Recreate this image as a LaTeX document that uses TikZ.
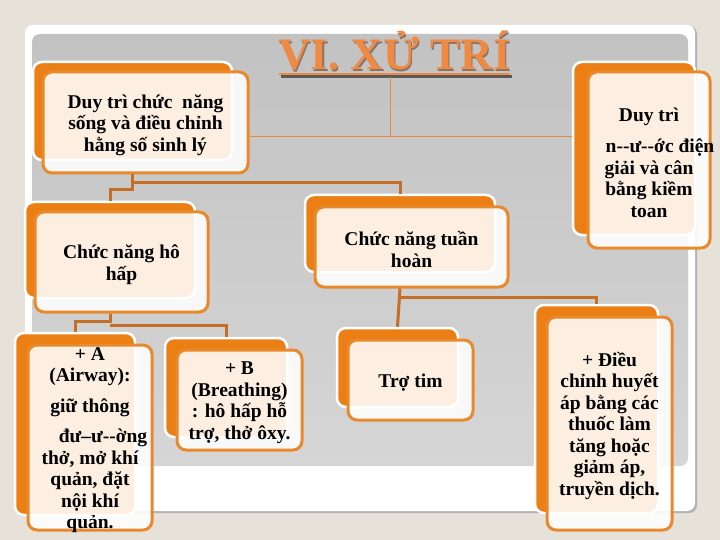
\documentclass[tikz,border=0pt]{standalone}
\usepackage{fontspec}
\setmainfont{Liberation Serif}
\definecolor{bgbeige}{HTML}{E6E1D9}
\definecolor{panelTop}{HTML}{C2C2C2}
\definecolor{panelBot}{HTML}{D6D6D6}
\definecolor{orangeB}{HTML}{EB7F14}
\definecolor{orangeL}{HTML}{E8892C}
\definecolor{connC}{HTML}{C46E28}
\definecolor{thinC}{HTML}{E8893A}
\definecolor{titleC}{HTML}{F08A42}
\definecolor{titleSh}{HTML}{8A7468}
\begin{document}
\begin{tikzpicture}[x=1pt,y=-1pt,
  backbox/.style={draw=white, line width=2.5pt, fill=orangeB, rounded corners=9pt, inner sep=0pt},
  frontbox/.style={draw=orangeL, line width=3pt, fill=white, fill opacity=0.87, rounded corners=9pt, inner sep=0pt},
  txt/.style={font=\bfseries\fontsize{19.5}{21.5}\selectfont, align=center, inner sep=0pt, text=black, yshift=-2.5pt},
  conn/.style={draw=connC, line width=3pt},
  thinl/.style={draw=thinC, line width=1pt}]
\useasboundingbox (0,0) rectangle (720,540);
\fill[bgbeige] (0,0) rectangle (720,540);
% panels
\fill[black!30, rounded corners=8pt] (26,26) rectangle (697,513);
\fill[white, rounded corners=8pt] (25,25) rectangle (695,511);
\shade[top color=panelTop, bottom color=panelBot, rounded corners=8pt] (32,34) rectangle (688,466);

% title
\node[font=\bfseries\fontsize{45}{50}\selectfont, text=titleSh, anchor=base] (titleshadow) at (395.6,71.1) {VI. XỬ TRÍ};
\node[font=\bfseries\fontsize{45}{50}\selectfont, text=titleC, anchor=base] (title) at (394.5,70) {VI. XỬ TRÍ};
\draw[line width=2.2pt, black!65] (281,76.5) -- (512,76.5);
\draw[line width=2pt, titleC] (279,74) -- (510,74);
\coordinate (ul) at (390,77.5);

% boxes: back
\node[backbox, minimum width=199pt, minimum height=98pt] (b1back) at (132.5,111) {};
\node[backbox, minimum width=122pt, minimum height=173pt] (b2back) at (634,148.5) {};
\node[backbox, minimum width=170pt, minimum height=96pt] (b3back) at (110,250) {};
\node[backbox, minimum width=190pt, minimum height=77pt] (b4back) at (400,233.5) {};
\node[backbox, minimum width=120pt, minimum height=182pt] (b5back) at (75,424) {};
\node[backbox, minimum width=122pt, minimum height=99pt] (b6back) at (226,387.5) {};
\node[backbox, minimum width=121pt, minimum height=79pt] (b7back) at (397.5,367.5) {};
\node[backbox, minimum width=123pt, minimum height=208pt] (b8back) at (596.5,409) {};

% boxes: front
\node[frontbox, minimum width=205pt, minimum height=101pt] (b1) at (145.5,122.5) {};
\node[frontbox, minimum width=122pt, minimum height=176pt] (b2) at (649,160) {};
\node[frontbox, minimum width=173pt, minimum height=100pt] (b3) at (121.5,262) {};
\node[frontbox, minimum width=193pt, minimum height=80pt] (b4) at (411.5,247) {};
\node[frontbox, minimum width=124pt, minimum height=185pt] (b5) at (90,437.5) {};
\node[frontbox, minimum width=125pt, minimum height=100pt] (b6) at (239.5,400) {};
\node[frontbox, minimum width=125pt, minimum height=80pt] (b7) at (410.5,380) {};
\node[frontbox, minimum width=125pt, minimum height=213pt] (b8) at (609.5,423.5) {};

% texts
\node[txt] (t1) at (b1.center) {Duy trì chức~ năng\\sống và điều chỉnh\\hằng số sinh lý};
\node[txt] (t2) at (b2.center) {Duy trì\\[10pt]\hspace*{22pt}n-{}-ư-{}-ớc điện\\giải và cân\\bằng kiềm\\toan};
\node[txt] (t3) at (b3.center) {Chức năng hô\\hấp};
\node[txt] (t4) at (b4.center) {Chức năng tuần\\hoàn};
\node[txt] (t5) at (b5.center) {+ A\\(Airway):\\[9pt]giữ thông\\[9pt]\hspace*{26pt}đư–ư-{}-ờng\\thở, mở khí\\quản, đặt\\nội khí\\quản.};
\node[txt] (t6) at (b6.center) {+ B\\(Breathing)\\: hô hấp hỗ\\trợ, thở ôxy.};
\node[txt] (t7) at (b7.center) {Trợ tim};
\node[txt] (t8) at (b8.center) {+ Điều\\chỉnh huyết\\áp bằng các\\thuốc làm\\tăng hoặc\\giảm áp,\\truyền dịch.};

% thin connectors
\draw[thinl] (b1.east |- 0,137) -- (b2back.west |- 0,137);
\draw[thinl] (ul) -- (ul |- 0,137);

% thick connectors
\coordinate (j1) at (b1back.south |- 0,183);
\coordinate (j2) at (b3back.south |- 0,325);
\coordinate (j3) at (b4back.south |- 0,297);
\draw[conn] (b1back.south |- b1.south) -- (b1back.south |- 0,190) -| (b3back.north);
\draw[conn] (j1) -| (b4back.north);
\draw[conn] (b3back.south |- b3.south) -- (b3back.south |- 0,321) -| (b5back.north);
\draw[conn] (j2) -| (b6back.north);
\draw[conn] (b4back.south |- b4.south) -- (b7back.north);
\draw[conn] (j3) -| (b8back.north);
\end{tikzpicture}
\end{document}
